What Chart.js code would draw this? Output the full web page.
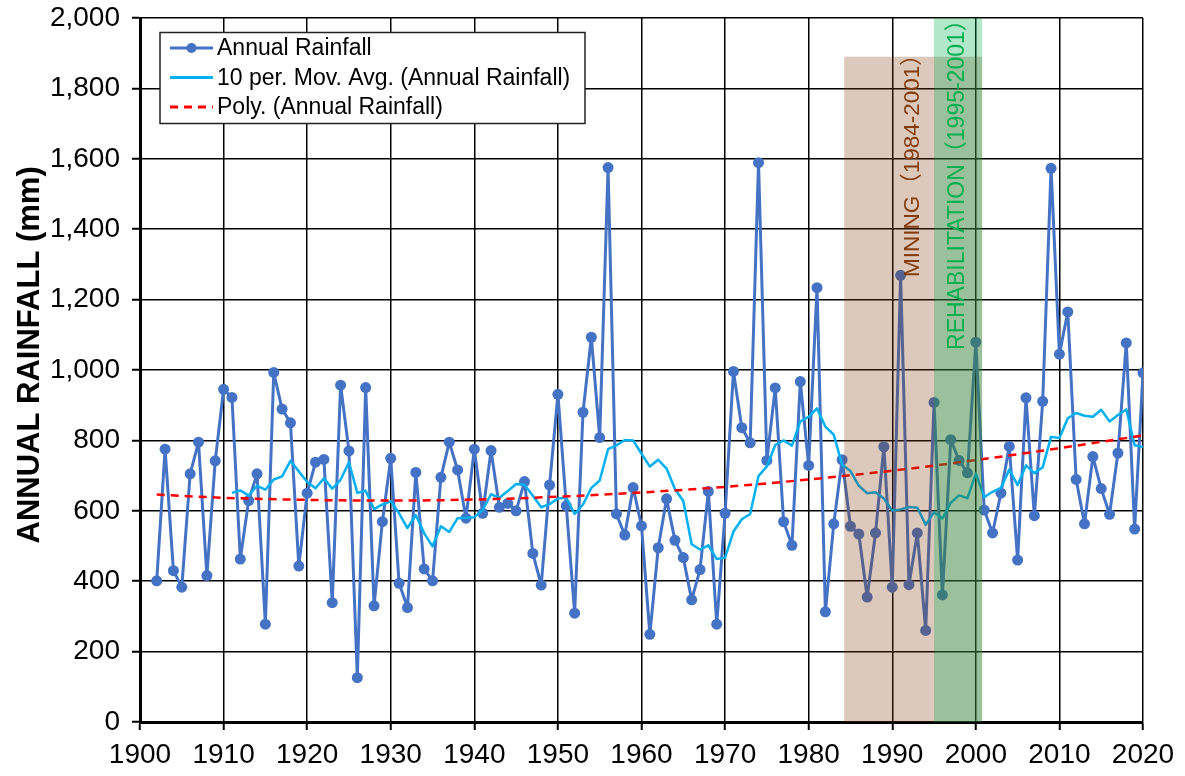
<!DOCTYPE html>
<html>
<head>
<meta charset="utf-8">
<script src="https://cdn.jsdelivr.net/npm/chart.js@4.4.1/dist/chart.umd.min.js"></script>
<style>
  html, body { margin: 0; padding: 0; background: #fff; }
  #wrap { width: 1185px; height: 776px; }
</style>
</head>
<body>
<div id="wrap"><canvas id="rainChart" width="1185" height="776"></canvas></div>
<script>
// Years of record
const years = [
                1902, 1903, 1904, 1905, 1906, 1907, 1908, 1909, 1910,
    1911, 1912, 1913, 1914, 1915, 1916, 1917, 1918, 1919, 1920,
    1921, 1922, 1923, 1924, 1925, 1926, 1927, 1928, 1929, 1930,
    1931, 1932, 1933, 1934, 1935, 1936, 1937, 1938, 1939, 1940,
    1941, 1942, 1943, 1944, 1945, 1946, 1947, 1948, 1949, 1950,
    1951, 1952, 1953, 1954, 1955, 1956, 1957, 1958, 1959, 1960,
    1961, 1962, 1963, 1964, 1965, 1966, 1967, 1968, 1969, 1970,
    1971, 1972, 1973, 1974, 1975, 1976, 1977, 1978, 1979, 1980,
    1981, 1982, 1983, 1984, 1985, 1986, 1987, 1988, 1989, 1990,
    1991, 1992, 1993, 1994, 1995, 1996, 1997, 1998, 1999, 2000,
    2001, 2002, 2003, 2004, 2005, 2006, 2007, 2008, 2009, 2010,
    2011, 2012, 2013, 2014, 2015, 2016, 2017, 2018, 2019, 2020
];

// Annual rainfall (mm)
const rainfall = [
               401, 775, 430, 383, 705, 795, 416, 742, 945,
    922, 463, 629, 705, 278, 993, 889, 850, 443, 650,
    738, 746, 339, 957, 770, 126, 950, 330, 569, 749,
    394, 325, 709, 435, 401, 695, 795, 716, 579, 775,
    593, 771, 610, 621, 600, 683, 479, 389, 673, 931,
    614, 309, 880, 1093, 808, 1575, 591, 531, 666, 557,
    249, 495, 634, 516, 467, 347, 433, 655, 278, 593,
    996, 836, 793, 1589, 743, 949, 569, 502, 967, 729,
    1234, 313, 563, 745, 556, 534, 355, 537, 782, 383,
    1269, 390, 537, 260, 908, 361, 802, 743, 708, 1079,
    602, 537, 650, 783, 460, 921, 586, 911, 1573, 1045,
    1165, 689, 563, 754, 663, 590, 764, 1077, 548, 992
];

// 10 period moving average (starts at the 10th year)
const movAvg = [
                null, null, null, null, null, null, null, null, null,
    651, 658, 643, 671, 660, 689, 698, 742, 712, 682,
    664, 692, 663, 688, 738, 651, 657, 605, 618, 627,
    593, 551, 588, 536, 499, 556, 540, 579, 580, 582,
    602, 647, 637, 656, 676, 674, 643, 610, 619, 635,
    637, 591, 618, 665, 686, 775, 786, 801, 800, 762,
    726, 745, 720, 662, 628, 505, 490, 502, 463, 467,
    541, 576, 591, 699, 726, 787, 800, 785, 854, 867,
    891, 839, 816, 731, 713, 671, 650, 653, 635, 600,
    604, 611, 609, 560, 596, 578, 623, 644, 636, 706,
    639, 654, 665, 717, 673, 729, 707, 724, 810, 807,
    863, 878, 870, 867, 887, 854, 872, 888, 786, 781
];

// Polynomial trend line, read at a few years
const polyYears = [1902, 1910, 1920, 1930, 1940, 1950, 1960, 1970, 1980, 1990, 2000, 2010, 2020];
const polyValues = [646, 637, 631, 629, 632, 640, 652, 668, 689, 714, 744, 778, 814];

// Shaded periods
const periodNames = ['MINING（1984-2001）', 'REHABILITATION（1995-2001）'];
const periodStart = [1984.25, 1995];
const periodEnd = [2000.75, 2000.75];
const periodTop = [1890, 2000];

const seriesLabels = ['Annual Rainfall', '10 per. Mov. Avg. (Annual Rainfall)', 'Poly. (Annual Rainfall)'];
const axisTitle = 'ANNUAL RAINFALL (mm)';

const FONT = '"Liberation Sans", Arial, sans-serif';

const periodPlugin = {
    id: 'periodShading',
    afterDatasetsDraw(chart) {
        const { ctx, chartArea, scales: { x, y } } = chart;
        const fills = ['rgba(132, 60, 12, 0.28)', 'rgba(0, 176, 80, 0.30)'];
        const textColors = ['#843C0C', '#00B050'];
        // label anchor (x year, y value where the text starts)
        const anchors = [[1992.5, 1264], [1997.85, 1057]];

        ctx.save();
        ctx.beginPath();
        ctx.rect(chartArea.left, chartArea.top, chartArea.width, chartArea.height);
        ctx.clip();
        periodNames.forEach((name, i) => {
            const left = x.getPixelForValue(periodStart[i]);
            const right = x.getPixelForValue(periodEnd[i]);
            const top = y.getPixelForValue(periodTop[i]);
            const bottom = y.getPixelForValue(0);
            ctx.fillStyle = fills[i];
            ctx.fillRect(left, top, right - left, bottom - top);
        });
        periodNames.forEach((name, i) => {
            ctx.save();
            ctx.translate(x.getPixelForValue(anchors[i][0]), y.getPixelForValue(anchors[i][1]));
            ctx.rotate(-Math.PI / 2);
            ctx.fillStyle = textColors[i];
            ctx.font = (i === 0 ? '22.5px' : '23px') + ' "Liberation Sans", Arial, "Noto Sans CJK JP", sans-serif';
            ctx.textAlign = 'left';
            ctx.textBaseline = 'middle';
            ctx.fillText(name, 0, 0);
            ctx.restore();
        });
        ctx.restore();
    }
};

// Legend box inside the plot area, plus the y axis title
const legendPlugin = {
    id: 'boxLegend',
    afterDraw(chart) {
        const { ctx, chartArea, scales: { y } } = chart;
        const bx = chartArea.left + 20;
        const by = chartArea.top + 14.5;
        const rows = [30, 59.5, 89];

        ctx.save();
        ctx.fillStyle = '#fff';
        ctx.fillRect(bx, by, 425, 91);
        ctx.strokeStyle = '#222';
        ctx.lineWidth = 1.5;
        ctx.strokeRect(bx, by, 425, 91);

        chart.data.datasets.forEach((ds, i) => {
            const cy = chartArea.top + rows[i];
            const x0 = chartArea.left + 30;
            const x1 = chartArea.left + 73;
            ctx.beginPath();
            ctx.setLineDash(ds.borderDash || []);
            ctx.strokeStyle = ds.borderColor;
            ctx.lineWidth = 3;
            ctx.moveTo(x0, cy);
            ctx.lineTo(x1, cy);
            ctx.stroke();
            ctx.setLineDash([]);
            if (ds.pointRadius > 0) {
                ctx.beginPath();
                ctx.fillStyle = ds.backgroundColor;
                ctx.arc((x0 + x1) / 2, cy, 5, 0, Math.PI * 2);
                ctx.fill();
            }
            ctx.fillStyle = '#000';
            ctx.font = '23px ' + FONT;
            ctx.textAlign = 'left';
            ctx.textBaseline = 'middle';
            ctx.fillText(ds.label, chartArea.left + 77, cy + 1);
        });

        // axis title sits a little above the middle of the axis
        ctx.translate(30, y.getPixelForValue(1043));
        ctx.rotate(-Math.PI / 2);
        ctx.fillStyle = '#000';
        ctx.font = 'bold 31px ' + FONT;
        ctx.textAlign = 'center';
        ctx.textBaseline = 'middle';
        ctx.fillText(axisTitle, 0, 0);
        ctx.restore();
    }
};

const ctx = document.getElementById('rainChart').getContext('2d');

new Chart(ctx, {
    type: 'line',
    data: {
        datasets: [{
            label: seriesLabels[0],
            data: years.map((yr, i) => ({ x: yr, y: rainfall[i] })),
            borderColor: '#4472C4',
            backgroundColor: '#4472C4',
            borderWidth: 3,
            borderJoinStyle: 'round',
            pointRadius: 5.5,
            pointBorderWidth: 0,
            pointBackgroundColor: '#4472C4',
            tension: 0,
            order: 2
        }, {
            label: seriesLabels[1],
            data: years.map((yr, i) => ({ x: yr, y: movAvg[i] })),
            borderColor: '#00B0F0',
            backgroundColor: '#00B0F0',
            borderWidth: 2.5,
            borderJoinStyle: 'round',
            pointRadius: 0,
            tension: 0,
            order: 1
        }, {
            label: seriesLabels[2],
            data: polyYears.map((yr, i) => ({ x: yr, y: polyValues[i] })),
            borderColor: '#FF0000',
            backgroundColor: '#FF0000',
            borderWidth: 2.5,
            borderDash: [8, 6],
            pointRadius: 0,
            cubicInterpolationMode: 'monotone',
            order: 0
        }]
    },
    options: {
        responsive: false,
        animation: false,
        layout: { padding: { left: 0, right: 42, top: 18, bottom: 0 } },
        plugins: {
            legend: { display: false },
            tooltip: { enabled: false }
        },
        scales: {
            x: {
                type: 'linear',
                min: 1900,
                max: 2020,
                ticks: {
                    stepSize: 10,
                    autoSkip: false,
                    maxRotation: 0,
                    padding: 8,
                    color: '#000',
                    font: { family: '"Liberation Sans Narrow", "Arial Narrow", ' + FONT, size: 28 },
                    callback: (v) => String(v)
                },
                grid: { color: '#000', lineWidth: 1.5, tickLength: 8, tickWidth: 2, tickColor: '#000' },
                border: { color: '#000', width: 3 },
                afterFit: (s) => { s.height = 54; s.paddingLeft = 0; s.paddingRight = 0; }
            },
            y: {
                min: 0,
                max: 2000,
                ticks: {
                    stepSize: 200,
                    padding: 12,
                    color: '#000',
                    font: { family: FONT, size: 28 },
                    callback: (v) => v.toLocaleString('en-US')
                },
                grid: { color: '#000', lineWidth: 1.5, tickLength: 8, tickWidth: 2, tickColor: '#000' },
                border: { color: '#000', width: 3 },
                afterFit: (s) => { s.width = 140; s.paddingTop = 0; s.paddingBottom = 0; }
            }
        }
    },
    plugins: [periodPlugin, legendPlugin]
});
</script>
</body>
</html>
